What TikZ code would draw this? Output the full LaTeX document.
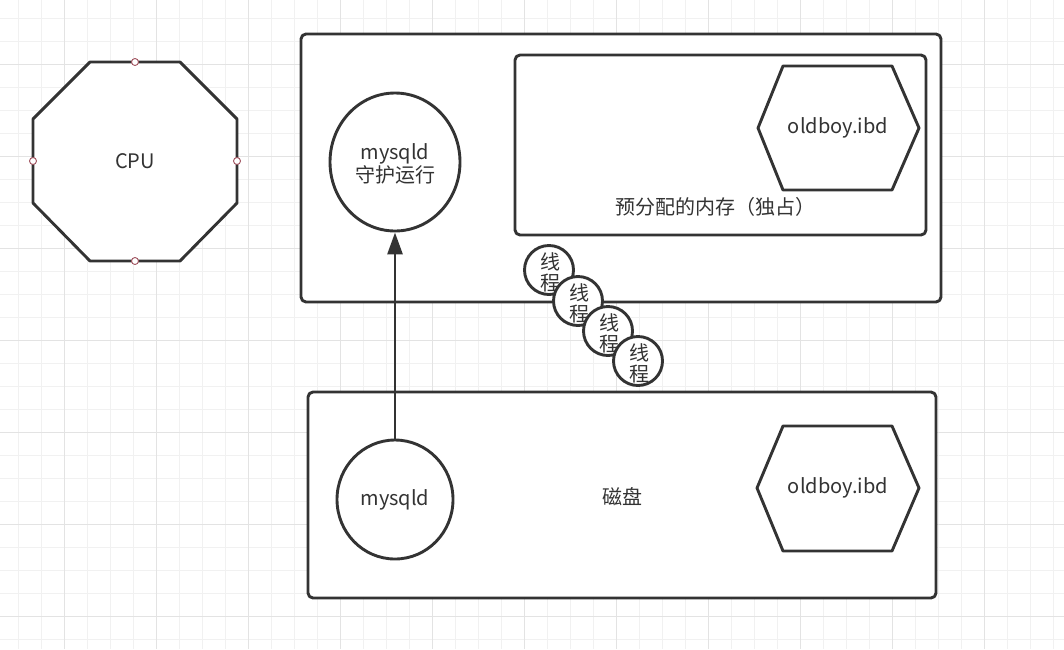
\documentclass[tikz,border=0pt]{standalone}
\usepackage{fontspec}
\setmainfont{Noto Sans CJK SC}
\usetikzlibrary{arrows.meta,shapes.geometric}
\definecolor{ink}{HTML}{333333}
\definecolor{gridminor}{HTML}{F1F1F1}
\definecolor{gridmajor}{HTML}{E3E3E3}
\definecolor{port}{HTML}{A0515D}
\begin{document}
\begin{tikzpicture}[x=1pt,y=-1pt,
  shapeline/.style={draw=ink, line width=2.9pt, line join=round},
  box/.style={shapeline, rounded corners=5pt, fill=white},
  txt/.style={text=ink, font=\fontsize{20}{23}\selectfont, inner sep=0pt, align=center},
  proc/.style={shapeline, fill=white, ellipse, inner sep=0pt, text=ink, font=\fontsize{20}{23}\selectfont, align=center},
  thread/.style={shapeline, fill=white, circle, inner sep=0pt, minimum size=49pt},
  threadtxt/.style={text=ink, font=\fontsize{20}{21}\selectfont, inner sep=0pt, align=center},
  portdot/.style={draw=port, fill=white, circle, line width=0.9pt, inner sep=0pt, minimum size=7pt},
  arr/.style={draw=ink, line width=2.9pt, -{Triangle[length=22pt,width=15pt]}}
]
\useasboundingbox (0,0) rectangle (1064,649);
\fill[white] (0,0) rectangle (1064,649);
% grid
\foreach \i in {0,...,45} {\pgfmathsetmacro\xx{18.3+23*\i}\draw[gridminor, line width=1pt] (\xx,0) -- (\xx,649);}
\foreach \i in {0,...,27} {\pgfmathsetmacro\yy{18+23*\i}\draw[gridminor, line width=1pt] (0,\yy) -- (1064,\yy);}
\foreach \i in {2,6,...,42} {\pgfmathsetmacro\xx{18.3+23*\i}\draw[gridmajor, line width=1pt] (\xx,0) -- (\xx,649);}
\foreach \i in {2,6,...,26} {\pgfmathsetmacro\yy{18+23*\i}\draw[gridmajor, line width=1pt] (0,\yy) -- (1064,\yy);}

% CPU octagon
\draw[shapeline, fill=white] (90,62) -- (180,62) -- (237,119) -- (237,203) -- (180,261) -- (90,261) -- (33,203) -- (33,119) -- cycle;
\node[txt] (cpu) at (135,161) {CPU};
\node[portdot] (cpun) at (135,62) {};
\node[portdot] (cpue) at (237,161) {};
\node[portdot] (cpus) at (135,261) {};
\node[portdot] (cpuw) at (33,161) {};

% top process box
\draw[box] (301,34) rectangle (941,302);
\draw[box] (515,55) rectangle (926,235);
\node[txt] (memlabel) at (715,207) {预分配的内存（独占）};
\draw[shapeline, fill=white] (758,128) -- (783,66) -- (892,66) -- (919,128) -- (892,190) -- (783,190) -- cycle;
\node[txt] (ibdmem) at (838,128) {oldboy.ibd};

\node[proc, minimum width=130pt, minimum height=138pt] (m1) at (395,162) {};
\node[txt] (m1l) at (395,163.5) {mysqld\\守护运行};

% bottom disk box
\draw[box] (308,392) rectangle (936,598);
\node[txt] (disk) at (622,497) {磁盘};
\draw[shapeline, fill=white] (757,488) -- (783,426) -- (892,426) -- (919,488) -- (892,551) -- (783,551) -- cycle;
\node[txt] (ibddisk) at (838,488) {oldboy.ibd};

\node[proc, minimum width=116pt, minimum height=119pt] (m2) at (395,499.5) {mysqld};

\draw[arr] (m2.north) -- (m1.south);

% threads
\node[thread] (t1) at (549,270) {};
\node[threadtxt] (t1l) at (550,272.5) {线\\程};
\node[thread] (t2) at (578,301) {};
\node[threadtxt] (t2l) at (579,303.5) {线\\程};
\node[thread] (t3) at (608,331) {};
\node[threadtxt] (t3l) at (609,333.5) {线\\程};
\node[thread] (t4) at (638,361) {};
\node[threadtxt] (t4l) at (639,363.5) {线\\程};
\end{tikzpicture}
\end{document}
